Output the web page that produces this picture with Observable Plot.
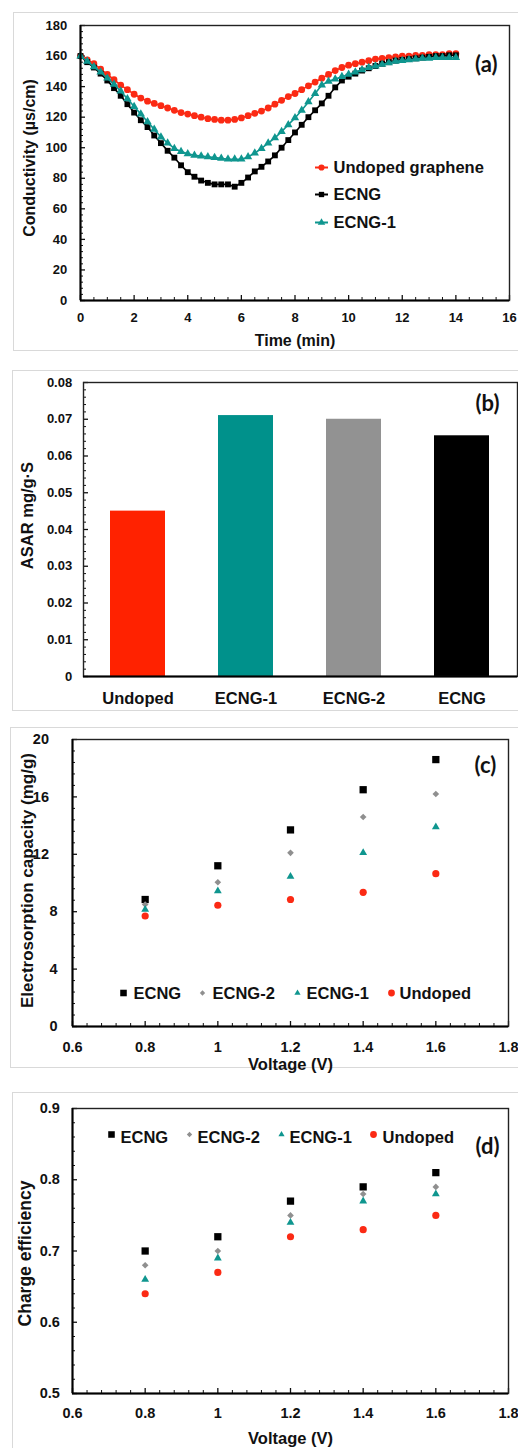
<!DOCTYPE html>
<html><head><meta charset="utf-8">
<script src="https://cdn.jsdelivr.net/npm/d3@7"></script>
<script src="https://cdn.jsdelivr.net/npm/@observablehq/plot@0.6"></script>
<style>
body{margin:0;background:#fff;}
#root{position:relative;width:518px;height:1448px;overflow:hidden;background:#fff;}
.panel{position:absolute;border:1.5px solid #d9d9d9;border-right:none;box-sizing:border-box;}
</style></head><body><div id="root"></div>
<script>
// ---------- DATA ----------
// (a) Conductivity vs time
const timeMin = [0,0.25,0.5,0.75,1,1.25,1.5,1.75,2,2.25,2.5,2.75,3,3.25,3.5,3.75,4,4.25,4.5,4.75,5,5.25,5.5,5.75,6,6.25,6.5,6.75,7,7.25,7.5,7.75,8,8.25,8.5,8.75,9,9.25,9.5,9.75,10,10.25,10.5,10.75,11,11.25,11.5,11.75,12,12.25,12.5,12.75,13,13.25,13.5,13.75,14];
const condUndoped = [160,157.5,155,151.5,148,144.5,141,138,135,132.5,130.5,129,127.5,126,124.5,123,122,121,120,119,118.5,118,118,118.5,119.5,121,122.5,124,126,128.5,131,133.5,135.5,138,140.5,143,145.5,148,150.5,152.5,154,155,156,157,158,158.5,159,159.5,160,160,160.5,160.5,161,161,161,161.5,161.5];
const condECNG = [160,156,152.5,148.5,144,139,134,128.5,123,118,113.5,108,103,98,93.5,88.5,84,81,78.5,77,76,76,76,74.5,77,80.5,84.5,87.5,91,95,100,105,110,115,120,124.5,129,134,139.5,144,146.5,148.5,150.5,152,153.5,155,156,157,157.5,158,158.5,159,159.5,160,160,160.5,160.5];
const condECNG1 = [160,156.5,153,149.5,145.5,141.5,137,132,127,122,117,112,107,103,99.5,97.5,96,95,94.5,94,93.5,93,92.5,92.5,92.5,94,96.5,99.5,103,106.5,110.5,115,119.5,124.5,130,135.5,141,143.5,145,146.5,148,149.5,151,152.5,153.5,154.5,155.5,156.5,157,157.5,158,158.5,158.5,159,159,159,159];
const seriesA = ["Undoped graphene", "ECNG", "ECNG-1"];
const timeTicks = [0,2,4,6,8,10,12,14,16];
const condTicks = [0,20,40,60,80,100,120,140,160,180];

// (b) ASAR
const asarCategories = ["Undoped", "ECNG-1", "ECNG-2", "ECNG"];
const asarValues = [0.045, 0.071, 0.070, 0.0655];
const asarTicks = [0,0.01,0.02,0.03,0.04,0.05,0.06,0.07,0.08];

// (c) Electrosorption capacity vs voltage
const voltage = [0.8, 1.0, 1.2, 1.4, 1.6];
const capECNG = [8.85, 11.2, 13.7, 16.5, 18.6];
const capECNG2 = [8.5, 10.05, 12.1, 14.6, 16.2];
const capECNG1 = [8.15, 9.45, 10.45, 12.1, 13.9];
const capUndoped = [7.7, 8.45, 8.85, 9.35, 10.65];
const capTicks = [0,4,8,12,16,20];
const voltTicks = [0.6,0.8,1,1.2,1.4,1.6,1.8];

// (d) Charge efficiency vs voltage
const effECNG = [0.70, 0.72, 0.77, 0.79, 0.81];
const effECNG2 = [0.68, 0.70, 0.75, 0.78, 0.79];
const effECNG1 = [0.66, 0.69, 0.74, 0.77, 0.78];
const effUndoped = [0.64, 0.67, 0.72, 0.73, 0.75];
const effTicks = [0.5,0.6,0.7,0.8,0.9];
const seriesCD = ["ECNG", "ECNG-2", "ECNG-1", "Undoped"];

// ---------- STYLE ----------
const FONT = '"Liberation Sans", Arial, Helvetica, sans-serif';
const LABEL_FONT = 'Lato, "Open Sans", sans-serif';
const INK = "#111";
const RED = "#fb2a14", BLACK = "#000", TEAL = "#0f968f", GRAY = "#8f8f8f";
const BAR_COLORS = ["#ff2200", "#00918b", "#929292", "#000000"];

const root = document.getElementById("root");

function panelBox(left, top, height, bottom = true) {
  const d = document.createElement("div");
  d.className = "panel";
  d.style.left = left + "px"; d.style.top = top + "px";
  d.style.width = (530 - left) + "px";
  d.style.height = height + "px";
  if (!bottom) d.style.borderBottom = "none";
  root.appendChild(d);
}

function minorTicks(lo, hi, step, majors) {
  const out = [];
  const n = Math.round((hi - lo) / step);
  for (let i = 0; i <= n; i++) {
    const v = +(lo + i * step).toFixed(6);
    if (!majors.some(m => Math.abs(m - v) < 1e-9)) out.push(v);
  }
  return out;
}

function tickMarks({w, h, xMajor, xMinor, yMajor, yMinor}) {
  const m = [];
  if (xMinor) m.push(Plot.tickX(xMinor, {x: d => d, insetTop: h - 3, stroke: INK, strokeWidth: 1}));
  if (xMajor) m.push(Plot.tickX(xMajor, {x: d => d, insetTop: h - 5, stroke: INK, strokeWidth: 1.3}));
  if (yMinor) m.push(Plot.tickY(yMinor, {y: d => d, insetRight: w - 3, stroke: INK, strokeWidth: 1}));
  if (yMajor) m.push(Plot.tickY(yMajor, {y: d => d, insetRight: w - 5, stroke: INK, strokeWidth: 1.3}));
  return m;
}

function frameMarks(xMin, yMin, band = false) {
  const m = [Plot.frame({stroke: "#222", strokeWidth: 1.4})];
  if (!band) m.push(Plot.ruleX([xMin], {stroke: BLACK, strokeWidth: 2}));
  m.push(Plot.ruleY([yMin], {stroke: BLACK, strokeWidth: 2}));
  return m;
}

function render(top, opts) {
  const svg = Plot.plot({
    width: 518,
    ...opts,
    style: {background: "transparent", fontFamily: FONT, color: INK, overflow: "visible"}
  });
  svg.style.position = "absolute";
  svg.style.left = "0px";
  svg.style.top = top + "px";
  root.appendChild(svg);
}

const bold = {fontWeight: "bold", fontFamily: FONT, fill: INK, lineAnchor: "middle"};
const mid = {textAnchor: "middle"};

// ---------- PANEL BORDERS ----------
panelBox(13, 12, 339);
panelBox(12, 369.5, 341);
panelBox(10, 727, 341);
panelBox(12, 1092, 400, false);

// ---------- (a) ----------
{
  const mL = 80, mR = 9, mT = 25, mB = 60, H = 360;
  const w = 518 - mL - mR, h = H - mT - mB;
  const rows = [];
  const vals = [condUndoped, condECNG, condECNG1];
  seriesA.forEach((s, k) => timeMin.forEach((t, i) => rows.push({series: s, t, v: vals[k][i]})));
  const colors = [RED, BLACK, TEAL];
  const symbols = ["circle", "square", "triangle"];
  const radii = [3.4, 3.3, 3.1];
  const lineSym = {draw(ctx) { ctx.moveTo(-6.5, 0); ctx.lineTo(6.5, 0); }};
  const marks = [];
  marks.push(...tickMarks({w, h, xMajor: timeTicks, xMinor: minorTicks(0, 16, 0.5, timeTicks), yMajor: condTicks, yMinor: minorTicks(0, 180, 4, condTicks)}));
  seriesA.forEach((s, k) => {
    const d = rows.filter(r => r.series === s);
    marks.push(Plot.line(d, {x: "t", y: "v", stroke: colors[k], strokeWidth: 1.6}));
    marks.push(Plot.dot(d, {x: "t", y: "v", symbol: symbols[k], r: radii[k], fill: colors[k], stroke: "none"}));
  });
  marks.push(...frameMarks(0, 0));
  // tick labels
  marks.push(Plot.text(timeTicks, {x: d => d, text: d => String(d), frameAnchor: "bottom", dy: 17, fontSize: 13, ...bold, ...mid}));
  marks.push(Plot.text(condTicks, {y: d => d, text: d => String(d), frameAnchor: "left", dx: -13.3, fontSize: 13, ...bold, textAnchor: "end"}));
  // axis titles
  marks.push(Plot.text(["Time (min)"], {frameAnchor: "bottom", dy: 40, fontSize: 16, ...bold, ...mid}));
  marks.push(Plot.text(["Conductivity (µs/cm)"], {frameAnchor: "left", rotate: -90, dx: -50.5, dy: -5, fontSize: 16, ...bold, ...mid}));
  // legend
  const legDy = [142, 169, 197];
  seriesA.forEach((s, k) => {
    marks.push(Plot.dot([s], {frameAnchor: "top-left", dx: 241, dy: legDy[k], symbol: lineSym, stroke: colors[k], strokeWidth: 2, fill: "none"}));
    marks.push(Plot.dot([s], {frameAnchor: "top-left", dx: 241, dy: legDy[k], symbol: symbols[k], r: radii[k] - 0.3, fill: colors[k], stroke: "none"}));
    marks.push(Plot.text([s], {frameAnchor: "top-left", dx: 253, dy: legDy[k], fontSize: 16.5, ...bold, textAnchor: "start"}));
  });
  marks.push(Plot.text(["(a)"], {frameAnchor: "top-right", dx: -12, dy: 39.3, fontSize: 22, ...bold, fontFamily: LABEL_FONT, textAnchor: "end"}));
  render(0, {height: H, marginLeft: mL, marginRight: mR, marginTop: mT, marginBottom: mB,
    x: {domain: [0, 16], axis: null}, y: {domain: [0, 180], axis: null}, marks});
}

// ---------- (b) ----------
{
  const mL = 83, mR = 1, mT = 22, mB = 44, H = 360;
  const w = 518 - mL - mR, h = H - mT - mB;
  const bars = asarCategories.map((c, i) => ({cat: c, v: asarValues[i]}));
  const marks = [];
  marks.push(Plot.barY(bars, {x: "cat", y: "v", fill: "cat"}));
  marks.push(...tickMarks({w, h, yMajor: asarTicks, yMinor: minorTicks(0, 0.08, 0.002, asarTicks)}));
  marks.push(...frameMarks(null, 0, true));
  marks.push(Plot.text(asarCategories, {x: d => d, frameAnchor: "bottom", dy: 22, fontSize: 16.5, ...bold, ...mid}));
  marks.push(Plot.text(asarTicks, {y: d => d, text: d => String(d), frameAnchor: "left", dx: -11.3, fontSize: 13, ...bold, textAnchor: "end"}));
  marks.push(Plot.text(["ASAR mg/g·S"], {frameAnchor: "left", rotate: -90, dx: -55.5, dy: -14, fontSize: 16.5, ...bold, ...mid}));
  marks.push(Plot.text(["(b)"], {frameAnchor: "top-right", dx: -18, dy: 21.3, fontSize: 22, ...bold, fontFamily: LABEL_FONT, textAnchor: "end"}));
  render(360, {height: H, marginLeft: mL, marginRight: mR, marginTop: mT, marginBottom: mB,
    x: {type: "band", domain: asarCategories, paddingInner: 0.49, paddingOuter: 0.25, axis: null},
    y: {domain: [0, 0.08], axis: null},
    color: {domain: asarCategories, range: BAR_COLORS},
    marks});
}

// ---------- (c) & (d) helpers ----------
function scatterPanel({top, H, mT, mB, yDomain, yTicks, yMinorStep, series, yLabel, yLabelSize, yLabelDx, yLabelDy, yTickDx, yTickSplit, xTickDy, xTitleDy, legend, tag, tagDx, tagDy}) {
  const mL = 72, mR = 10;
  const w = 518 - mL - mR, h = H - mT - mB;
  const marks = [];
  marks.push(...tickMarks({w, h, xMajor: voltTicks, xMinor: minorTicks(0.6, 1.8, 0.04, voltTicks), yMajor: yTicks, yMinor: minorTicks(yDomain[0], yDomain[1], yMinorStep, yTicks)}));
  const styles = {
    "ECNG": {symbol: "square", fill: BLACK, r: 4.1},
    "ECNG-2": {symbol: "diamond2", fill: GRAY, r: 3.0},
    "ECNG-1": {symbol: "triangle", fill: TEAL, r: 2.9},
    "Undoped": {symbol: "circle", fill: RED, r: 3.6}
  };
  series.forEach(([name, values]) => {
    const pts = voltage.map((v, i) => ({v, y: values[i]}));
    const st = styles[name];
    marks.push(Plot.dot(pts, {x: "v", y: "y", symbol: st.symbol, r: st.r, fill: st.fill, stroke: "none"}));
  });
  marks.push(...frameMarks(0.6, yDomain[0]));
  marks.push(Plot.text(voltTicks, {x: d => d, text: d => String(d), frameAnchor: "bottom", dy: xTickDy, fontSize: 14.5, ...bold, ...mid}));
  if (yTickSplit) {
    marks.push(Plot.text(yTicks.filter(d => d >= 10), {y: d => d, text: d => String(d), frameAnchor: "left", dx: yTickDx[0], fontSize: 14.5, ...bold, textAnchor: "end"}));
    marks.push(Plot.text(yTicks.filter(d => d < 10), {y: d => d, text: d => String(d), frameAnchor: "left", dx: yTickDx[1], fontSize: 14.5, ...bold, textAnchor: "end"}));
  } else {
    marks.push(Plot.text(yTicks, {y: d => d, text: d => String(d), frameAnchor: "left", dx: yTickDx[0], fontSize: 14.5, ...bold, textAnchor: "end"}));
  }
  marks.push(Plot.text(["Voltage (V)"], {frameAnchor: "bottom", dy: xTitleDy, fontSize: 16.5, ...bold, ...mid}));
  marks.push(Plot.text([yLabel], {frameAnchor: "left", rotate: -90, dx: yLabelDx, dy: yLabelDy, fontSize: yLabelSize, ...bold, ...mid}));
  const legR = {"ECNG": 3.7, "ECNG-2": 2.4, "ECNG-1": 2.3, "Undoped": 3.4};
  seriesCD.forEach((name, k) => {
    const st = styles[name];
    marks.push(Plot.dot([name], {frameAnchor: "top-left", dx: legend.sym[k], dy: legend.symDy, symbol: st.symbol, r: legR[name], fill: st.fill, stroke: "none"}));
    marks.push(Plot.text([name], {frameAnchor: "top-left", dx: legend.txt[k], dy: legend.txtDy, fontSize: 16.5, ...bold, textAnchor: "start"}));
  });
  marks.push(Plot.text([tag], {frameAnchor: "top-right", dx: tagDx, dy: tagDy, fontSize: 22, ...bold, fontFamily: LABEL_FONT, textAnchor: "end"}));
  render(top, {height: H, marginLeft: mL, marginRight: mR, marginTop: mT, marginBottom: mB,
    x: {domain: [0.6, 1.8], axis: null}, y: {domain: yDomain, axis: null}, marks});
}

// ---------- (c) ----------
scatterPanel({
  top: 720, H: 360, mT: 19, mB: 54, yDomain: [0, 20], yTicks: capTicks, yMinorStep: 0.8,
  series: [["ECNG", capECNG], ["ECNG-2", capECNG2], ["ECNG-1", capECNG1], ["Undoped", capUndoped]],
  yLabel: "Electrosorption capacity (mg/g)", yLabelSize: 17, yLabelDx: -45.3, yLabelDy: -2.5,
  yTickDx: [-23.5, -15], yTickSplit: true, xTickDy: 20.7, xTitleDy: 38,
  legend: {sym: [51, 130, 225, 319], txt: [61, 140, 234, 327], symDy: 253.5, txtDy: 254.5},
  tag: "(c)", tagDx: -12.3, tagDy: 26
});

// ---------- (d) ----------
scatterPanel({
  top: 1080, H: 368, mT: 28, mB: 55, yDomain: [0.5, 0.9], yTicks: effTicks, yMinorStep: 0.02,
  series: [["ECNG", effECNG], ["ECNG-2", effECNG2], ["ECNG-1", effECNG1], ["Undoped", effUndoped]],
  yLabel: "Charge efficiency", yLabelSize: 17.5, yLabelDx: -47, yLabelDy: 2.5,
  yTickDx: [-12.7], yTickSplit: false, xTickDy: 20.3, xTitleDy: 45.3,
  legend: {sym: [39, 117, 209, 301], txt: [48, 125, 217, 310], symDy: 26, txtDy: 29},
  tag: "(d)", tagDx: -9, tagDy: 38.7
});
</script></body></html>
